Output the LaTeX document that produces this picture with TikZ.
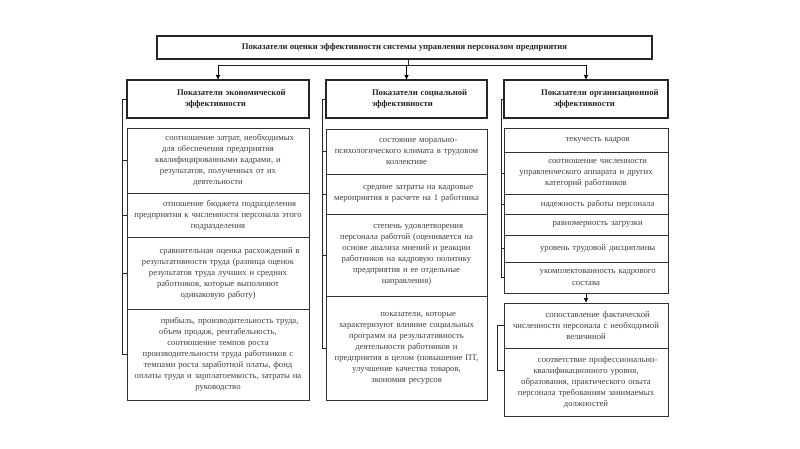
\documentclass[tikz,border=0pt]{standalone}
\usepackage{fontspec}
\setmainfont{Liberation Serif}
\usetikzlibrary{arrows.meta,calc,positioning}
\tikzset{pin/.style={line width=0.8pt, -{Latex[length=1.5mm,width=1.4mm]}},
  lnk/.style={line width=0.8pt, draw=black!85},
  ttlbox/.style={draw=black!85, line width=1.1pt, minimum width=148.5mm, minimum height=6.9mm, text=black!85, font=\bfseries\fontsize{7.4}{9}\selectfont},
  hdbox/.style={draw=black!85, line width=0.9pt, minimum height=11.4mm, align=left, inner xsep=1mm, outer sep=0pt, text=black!85, font=\bfseries\fontsize{7.4}{9.6}\selectfont},
  itm/.style={draw=black!80, line width=0.6pt, align=center, inner xsep=1mm, outer sep=0pt, text=black!75, font=\fontsize{7.4}{9.4}\selectfont},
  ca/.style={text width=52.6mm},
  cb/.style={text width=46.3mm},
  cc/.style={text width=47.2mm}}
\newcommand{\firstind}{\hspace*{7mm}}

\begin{document}
\begin{tikzpicture}[x=0.3mm, y=-0.3mm]
  \useasboundingbox[fill=white] (0,0) rectangle (800,449);
  \node[ttlbox] (ttl) at (404.5,47.5) {Показатели оценки эффективности системы управления персоналом предприятия};

  \node[hdbox, ca] (h1) at (218,99) {\hspace*{14mm}Показатели экономической\\\hspace*{16.4mm}эффективности};
  \node[hdbox, cb] (h2) at (406.5,99) {\hspace*{12.8mm}Показатели социальной\\\hspace*{12.8mm}эффективности};
  \node[hdbox, cc] (h3) at (586,99) {\hspace*{10.1mm}Показатели организационной\\\hspace*{14mm}эффективности};

  \node[itm, ca, minimum height=19.5mm, below=3mm of h1] (e1) {\firstind соотношение затрат, необходимых\\для обеспечения предприятия\\квалифицированными кадрами, и\\результатов, полученных от их\\деятельности};
  \node[itm, ca, minimum height=13.2mm, below=0pt of e1] (e2) {\firstind отношение бюджета подразделения\\предприятия к численности персонала этого\\подразделения};
  \node[itm, ca, minimum height=21.6mm, below=0pt of e2] (e3) {\firstind сравнительная оценка расхождений в\\результативности труда (разница оценок\\результатов труда лучших и средних\\работников, которые выполняют\\одинаковую работу)};
  \node[itm, ca, minimum height=27.3mm, below=0pt of e3] (e4) {\firstind прибыль, производительность труда,\\объем продаж, рентабельность,\\соотношение темпов роста\\производительности труда работников с\\темпами роста заработной платы, фонд\\оплаты труда и зарплатоемкость, затраты на\\руководство};

  \node[itm, cb, minimum height=13.5mm, below=3.3mm of h2] (s1) {\firstind состояние морально-\\психологического климата в трудовом\\коллективе};
  \node[itm, cb, minimum height=12mm, below=0pt of s1] (s2) {\firstind средние затраты на кадровые\\мероприятия в расчете на 1 работника};
  \node[itm, cb, minimum height=24.6mm, below=0pt of s2] (s3) {\firstind степень удовлетворения\\персонала работой (оценивается на\\основе анализа мнений и реакции\\работников на кадровую политику\\предприятия и ее отдельные\\направления)};
  \node[itm, cb, minimum height=31.2mm, below=0pt of s3] (s4) {\firstind показатели, которые\\характеризуют влияние социальных\\программ на результативность\\деятельности работников и\\предприятия в целом (повышение ПТ,\\улучшение качества товаров,\\экономия ресурсов\\[6mm]};

  \node[itm, cc, minimum height=7.2mm, below=3mm of h3] (o1) {\firstind текучесть кадров};
  \node[itm, cc, minimum height=12.6mm, below=0pt of o1] (o2) {\firstind соотношение численности\\управленческого аппарата и других\\категорий работников};
  \node[itm, cc, minimum height=6mm, below=0pt of o2] (o3) {\firstind надежность работы персонала};
  \node[itm, cc, minimum height=6.3mm, below=0pt of o3] (o4) {\firstind равномерность загрузки};
  \node[itm, cc, minimum height=8.1mm, below=0pt of o4] (o5) {\firstind уровень трудовой дисциплины};
  \node[itm, cc, minimum height=9.3mm, below=0pt of o5] (o6) {\firstind укомплектованность кадрового\\состава};
  \node[itm, cc, minimum height=13.5mm, below=3mm of o6] (o7) {\firstind сопоставление фактической\\численности персонала с необходимой\\величиной};
  \node[itm, cc, minimum height=20.4mm, below=0pt of o7] (o8) {\firstind соответствие профессионально-\\квалификационного уровня,\\образования, практического опыта\\персонала требованиям занимаемых\\должностей};

  \coordinate (jn) at (408,65);
  \draw[lnk] (jn |- ttl.south) -- (jn);
  \draw[lnk] (jn -| h1) -- (jn -| h3);
  \draw[pin] (jn -| h1) -- (h1.north);
  \draw[pin] (jn -| h2) -- (h2.north);
  \draw[pin] (jn -| h3) -- (h3.north);
  \draw[pin] (o6.south) -- (o7.north);

  \draw[lnk] (h1.west) -- ++(-5,0) coordinate (b1) -- (b1 |- e4.west) -- (e4.west);
  \draw[lnk] (b1 |- e1.west) -- (e1.west);
  \draw[lnk] (b1 |- e2.west) -- (e2.west);
  \draw[lnk] (b1 |- e3.west) -- (e3.west);

  \draw[lnk] (h2.west) -- ++(-4,0) coordinate (b2) -- (b2 |- s4.west) -- (s4.west);
  \draw[lnk] (b2 |- s1.west) -- (s1.west);
  \draw[lnk] (b2 |- s2.west) -- (s2.west);
  \draw[lnk] (b2 |- s3.west) -- (s3.west);

  \draw[lnk] (h3.west) -- ++(-3,0) coordinate (b3) -- (b3 |- o6.west) -- (o6.west);
  \draw[lnk] (b3 |- o2.west) -- (o2.west);
  \draw[lnk] (b3 |- o3.west) -- (o3.west);
  \draw[lnk] (b3 |- o5.west) -- (o5.west);

  \draw[lnk] (o7.west) -- ++(-7,0) coordinate (b4) |- ($(o8.west)+(0,-12)$);
\end{tikzpicture}
\end{document}
